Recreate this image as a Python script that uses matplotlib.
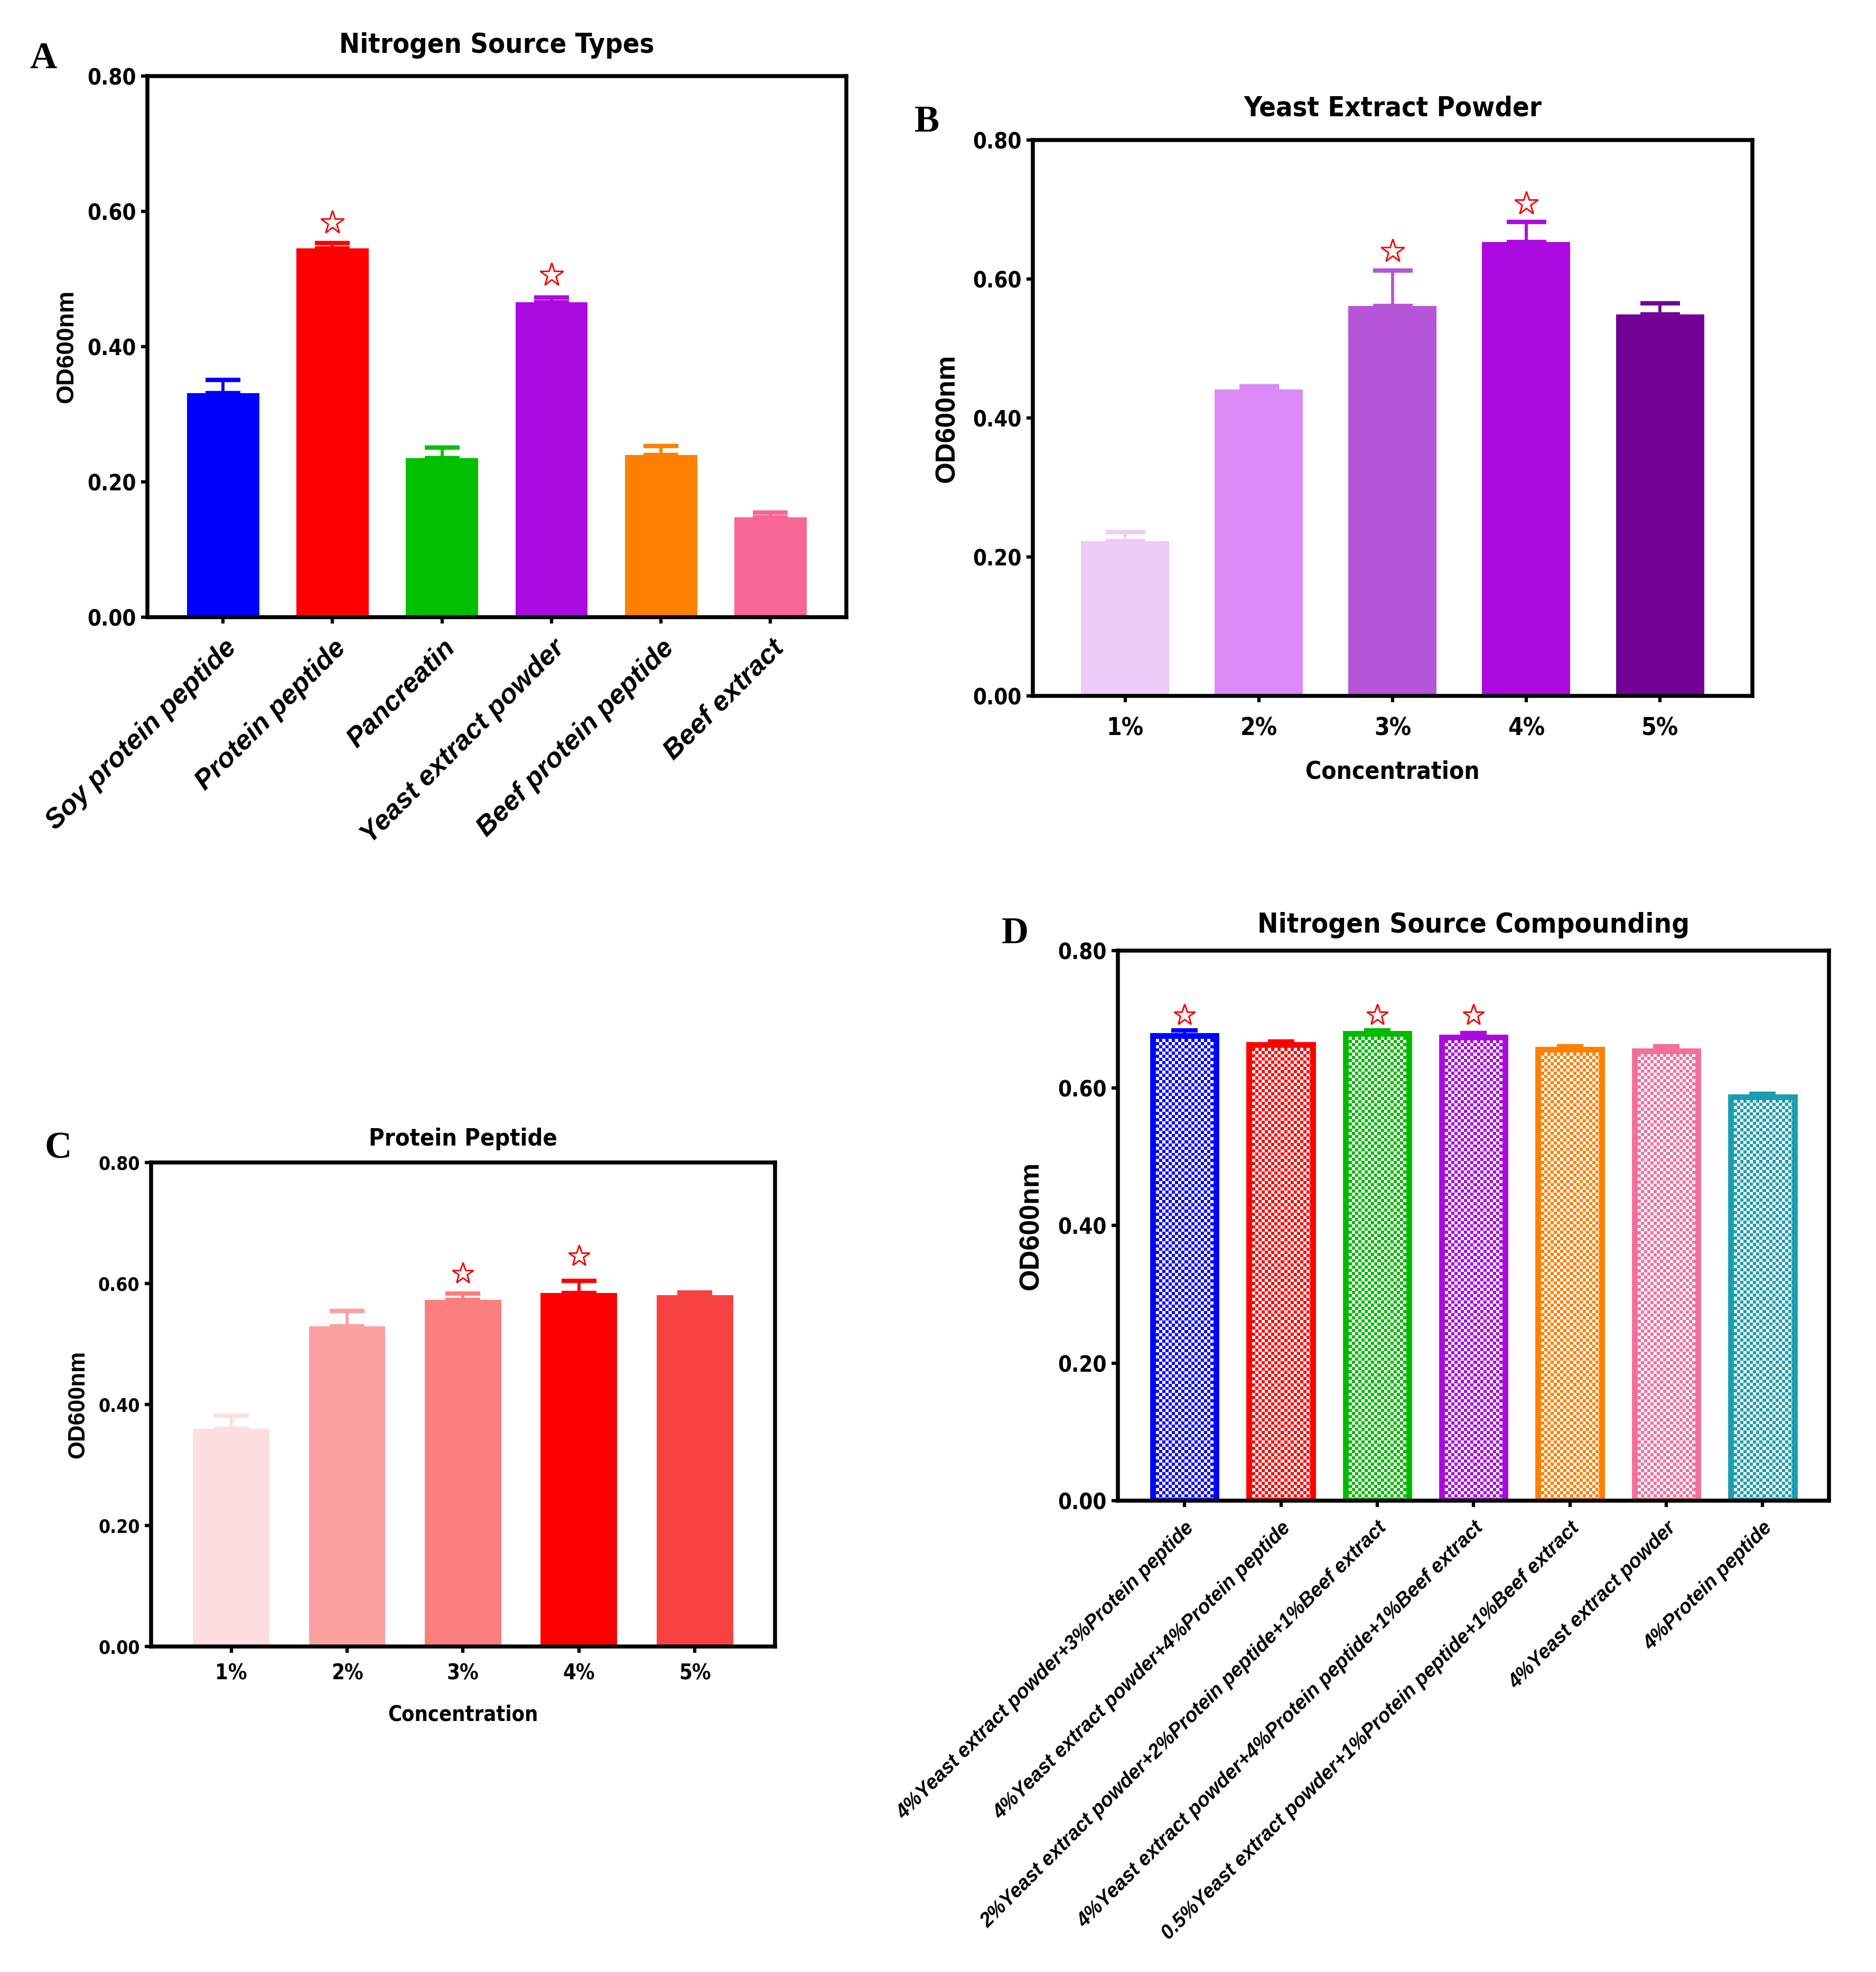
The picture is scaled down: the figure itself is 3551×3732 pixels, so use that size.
import matplotlib
matplotlib.use("Agg")
import matplotlib.pyplot as plt
from matplotlib.colors import ListedColormap
import numpy as np

# ---------------- data ----------------
a_cats = ["Soy protein peptide", "Protein peptide", "Pancreatin",
          "Yeast extract powder", "Beef protein peptide", "Beef extract"]
a_vals = [0.331, 0.545, 0.235, 0.466, 0.240, 0.148]
a_errs = [0.020, 0.008, 0.016, 0.007, 0.013, 0.007]
a_colors = ["#0000FF", "#FF0000", "#00C000", "#AA0AE0", "#FF8000", "#F76694"]
a_star_idx = [1, 3]
a_star_y = [0.584, 0.506]

b_cats = ["1%", "2%", "3%", "4%", "5%"]
b_vals = [0.223, 0.441, 0.561, 0.653, 0.549]
b_errs = [0.013, 0.005, 0.051, 0.029, 0.016]
b_colors = ["#EECCF8", "#DC8AF6", "#B655D8", "#AA0AE0", "#720294"]
b_star_idx = [2, 3]
b_star_y = [0.640, 0.709]

c_cats = ["1%", "2%", "3%", "4%", "5%"]
c_vals = [0.360, 0.529, 0.573, 0.584, 0.581]
c_errs = [0.022, 0.025, 0.010, 0.020, 0.004]
c_colors = ["#FDDEE0", "#FBA0A0", "#FC7F7F", "#FF0000", "#F84242"]
c_star_idx = [2, 3]
c_star_y = [0.616, 0.645]

d_cats = ["4%Yeast extract powder+3%Protein peptide",
          "4%Yeast extract powder+4%Protein peptide",
          "2%Yeast extract powder+2%Protein peptide+1%Beef extract",
          "4%Yeast extract powder+4%Protein peptide+1%Beef extract",
          "0.5%Yeast extract powder+1%Protein peptide+1%Beef extract",
          "4%Yeast extract powder",
          "4%Protein peptide"]
d_vals = [0.676, 0.663, 0.679, 0.674, 0.656, 0.654, 0.587]
d_errs = [0.008, 0.005, 0.005, 0.006, 0.005, 0.007, 0.005]
d_colors = ["#0000FF", "#FF0000", "#00BB00", "#AA0AE0", "#FF8000", "#F56E9B", "#1A9DB0"]
d_star_idx = [0, 2, 3]
d_star_y = [0.706, 0.706, 0.706]

yticks = [0.0, 0.2, 0.4, 0.6, 0.8]
ylabel = "OD600nm"

# ---------------- style ----------------
NARROW = dict(family="DejaVu Sans", fontstretch="condensed", fontweight="bold")
WIDE = ["Liberation Sans", "DejaVu Sans"]
SERIF = ["Liberation Serif", "DejaVu Serif"]
FIG_W, FIG_H, DPI = 3551, 3732, 300
BAR_W = 0.66
CELL_PX = 6.0  # checkerboard cell size in pixels

fig = plt.figure(figsize=(FIG_W / DPI, FIG_H / DPI), dpi=DPI)


def panel(rect, cats, vals, errs, colors, star_idx, star_y, title, letter,
          letter_xy, ytick_fs, xtick_fs, title_fs, ylab_fs, ylab_x,
          title_pad=9, xlab=None, xlab_fs=None, rot=0, xlab_style=None,
          checker=False, lw_spine=1.8, star_ms=11, capsize=8, xpad=6.5):
    ax = fig.add_axes(rect)
    n = len(cats)
    x = np.arange(n)
    xlim = (-0.69, n - 1 + 0.69)
    ax_w_px = rect[2] * FIG_W
    ax_h_px = rect[3] * FIG_H
    for i, (v, e, c) in enumerate(zip(vals, errs, colors)):
        ax.errorbar(x[i], v, yerr=[[0], [e]], fmt="none", ecolor=c,
                    elinewidth=1.4, capsize=capsize, capthick=2.0,
                    zorder=1)
        if checker:
            ncol = max(1, int(round(BAR_W / (xlim[1] - xlim[0]) * ax_w_px / CELL_PX)))
            nrow = max(1, int(round(v / 0.8 * ax_h_px / CELL_PX)))
            board = (np.add.outer(np.arange(nrow), np.arange(ncol)) % 2)
            ax.imshow(board, extent=(x[i] - BAR_W / 2, x[i] + BAR_W / 2, 0, v),
                      cmap=ListedColormap(["white", c]), vmin=0, vmax=1,
                      interpolation="nearest", aspect="auto", origin="lower",
                      zorder=2)
            ax.bar(x[i], v, width=BAR_W, facecolor="none", edgecolor=c,
                   linewidth=2.6, zorder=2.5)
        else:
            ax.bar(x[i], v, width=BAR_W, color=c, linewidth=0, zorder=2)
    ax.plot(x[star_idx], star_y, linestyle="none", marker="*",
            markersize=star_ms, markerfacecolor="white",
            markeredgecolor="red", markeredgewidth=0.7, zorder=3)
    ax.set_xlim(*xlim)
    ax.set_ylim(0, 0.8)
    ax.set_yticks(yticks)
    ax.set_yticklabels(["%.2f" % t for t in yticks], fontsize=ytick_fs,
                       **NARROW)
    ax.set_xticks(x)
    if rot:
        ax.set_xticklabels(cats, rotation=rot, ha="right",
                           rotation_mode="anchor", **xlab_style)
    else:
        ax.set_xticklabels(cats, fontsize=xtick_fs, **NARROW)
    for s in ax.spines.values():
        s.set_linewidth(lw_spine)
    ax.tick_params(axis="both", direction="out", width=1.5, length=2.8)
    ax.tick_params(axis="y", pad=2.4)
    ax.tick_params(axis="x", pad=xpad)
    ax.set_ylabel(ylabel, family=WIDE, fontweight="bold", fontsize=ylab_fs)
    ax.yaxis.set_label_coords(ylab_x, 0.5)
    if xlab:
        ax.set_xlabel(xlab, fontsize=xlab_fs, labelpad=9, **NARROW)
    ax.set_title(title, fontsize=title_fs, pad=title_pad, **NARROW)
    fig.text(letter_xy[0], letter_xy[1], letter, family=SERIF,
             fontweight="bold", fontsize=17, ha="center", va="center")
    return ax


panel([0.0786, 0.687, 0.3724, 0.2744], a_cats, a_vals, a_errs, a_colors,
      a_star_idx, a_star_y, "Nitrogen Source Types", "A", (0.023, 0.970),
      ytick_fs=10, xtick_fs=11, title_fs=12.5, ylab_fs=11, ylab_x=-0.099,
      title_pad=10.5, rot=45, xpad=5.2,
      xlab_style=dict(family=WIDE, fontweight="bold", style="italic",
                      fontsize=12.5))

panel([0.5506, 0.647, 0.3834, 0.282], b_cats, b_vals, b_errs, b_colors,
      b_star_idx, b_star_y, "Yeast Extract Powder", "B", (0.494, 0.938),
      ytick_fs=10, xtick_fs=11, title_fs=12.5, ylab_fs=12.5, ylab_x=-0.101,
      title_pad=11, xlab="Concentration", xlab_fs=11, capsize=9, xpad=6.5)

panel([0.0806, 0.165, 0.3324, 0.2456], c_cats, c_vals, c_errs, c_colors,
      c_star_idx, c_star_y, "Protein Peptide", "C", (0.031, 0.4175),
      ytick_fs=8.5, xtick_fs=9.5, title_fs=10.8, ylab_fs=10.5, ylab_x=-0.100,
      title_pad=7.5, xlab="Concentration", xlab_fs=9.5, star_ms=10, xpad=4.8)

panel([0.596, 0.239, 0.379, 0.279], d_cats, d_vals, d_errs, d_colors,
      d_star_idx, d_star_y, "Nitrogen Source Compounding", "D", (0.541, 0.5265),
      ytick_fs=10, xtick_fs=11, title_fs=12.6, ylab_fs=12.5, ylab_x=-0.104,
      title_pad=8, rot=45, xpad=5.2, checker=True, capsize=6, star_ms=10,
      xlab_style=dict(family=WIDE, fontweight="bold", style="italic",
                      fontsize=9))

fig.savefig("out.png", dpi=DPI, facecolor="white")
